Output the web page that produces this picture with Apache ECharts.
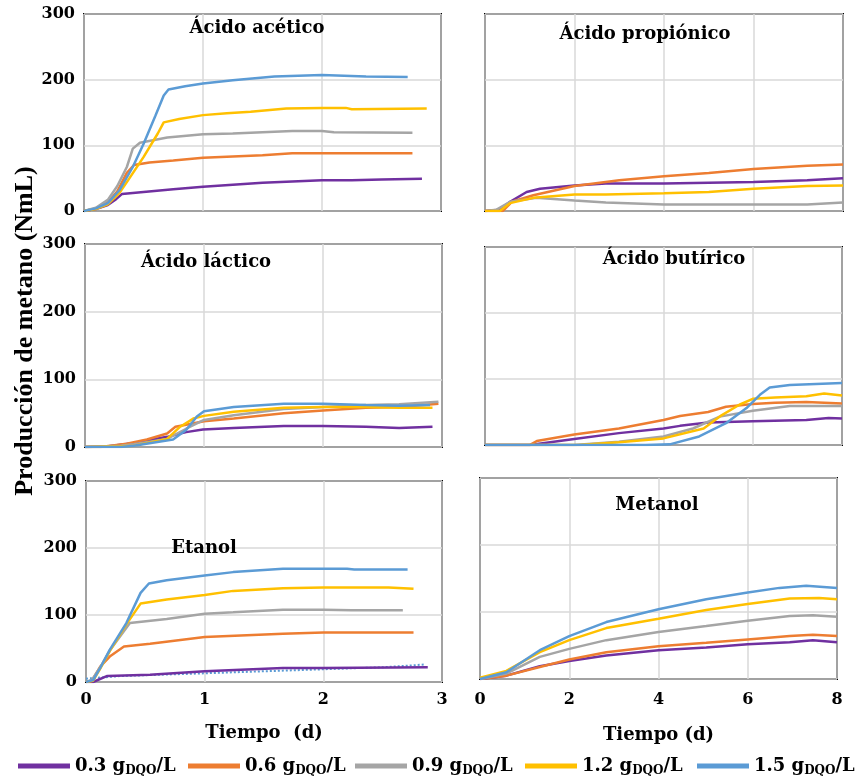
<!DOCTYPE html>
<html><head><meta charset="utf-8">
<script src="https://cdn.jsdelivr.net/npm/echarts@6/dist/echarts.min.js"></script>
<style>html,body{margin:0;padding:0;background:#fff}#c{width:867px;height:779px}</style>
</head><body><div id="c"></div>
<script>
// ---- data (t in days, methane in NmL) ----
const seriesNames = ['0.3', '0.6', '0.9', '1.2', '1.5'];
const seriesColors = ['#7030A0', '#ED7D31', '#A5A5A5', '#FFC000', '#5B9BD5'];
const panelTitles = ['Ácido acético', 'Ácido propiónico', 'Ácido láctico', 'Ácido butírico', 'Etanol', 'Metanol'];
const yTicks = [0, 100, 200, 300];
const xTicksShort = [0, 1, 2, 3];
const xTicksLong = [0, 2, 4, 6, 8];

const acetico03 = [[0,0],[0.1,3],[0.2,9],[0.27,18],[0.32,26],[0.5,29],[0.75,33],[1,37],[1.25,40],[1.5,43],[1.75,45],[2,47],[2.25,47],[2.5,48],[2.84,49]];
const acetico06 = [[0,0],[0.1,4],[0.2,13],[0.28,30],[0.36,58],[0.42,70],[0.55,74],[0.75,77],[1,81],[1.25,83],[1.5,85],[1.75,88],[2,88],[2.5,88],[2.76,88]];
const acetico09 = [[0,0],[0.1,5],[0.2,17],[0.28,38],[0.36,67],[0.41,95],[0.47,104],[0.7,112],[1,117],[1.25,118],[1.5,120],[1.75,122],[2,122],[2.1,120],[2.76,119]];
const acetico12 = [[0,0],[0.1,3],[0.2,10],[0.3,28],[0.36,44],[0.5,82],[0.62,118],[0.67,135],[0.8,140],[1,146],[1.2,149],[1.4,151],[1.7,156],[2,157],[2.2,157],[2.25,155],[2.88,156]];
const acetico15 = [[0,0],[0.1,4],[0.2,12],[0.3,32],[0.41,67],[0.5,102],[0.6,145],[0.67,176],[0.71,185],[0.85,190],[1,194],[1.25,199],[1.6,205],[2,207],[2.37,205],[2.72,204]];

const propionico03 = [[0,0],[0.33,2],[0.56,14],[0.93,29],[1.23,34],[2,39],[2.7,42],[4,42],[5,43],[6,44],[7.2,47],[8,50]];
const propionico06 = [[0,0],[0.4,0],[0.6,14],[1.08,24],[2,38],[3,47],[4,53],[5,58],[6,64],[7.2,69],[8,71]];
const propionico09 = [[0,0],[0.26,2],[0.56,14],[1.15,20],[2,16],[2.7,13],[4,10],[5,10],[6,10],[7.2,10],[8,13]];
const propionico12 = [[0,0],[0.33,0],[0.56,12],[1.08,20],[2,25],[2.7,25],[4,27],[5,29],[6,34],[7.2,38],[8,39]];
const propionico15 = [];

const lactico03 = [[0,0],[0.2,1],[0.41,6],[0.69,15],[0.85,22],[0.99,26],[1.25,28],[1.67,31],[2,31],[2.36,30],[2.64,28],[2.92,30]];
const lactico06 = [[0,0],[0.13,0],[0.35,5],[0.52,11],[0.69,20],[0.76,30],[0.85,33],[1,38],[1.25,42],[1.67,50],[2,54],[2.36,58],[2.64,59],[2.97,64]];
const lactico09 = [[0,0],[0.3,2],[0.41,4],[0.69,12],[0.85,27],[1,40],[1.25,47],[1.67,56],[2,59],[2.36,62],[2.64,63],[2.97,67]];
const lactico12 = [[0,0],[0.3,1],[0.41,2],[0.69,12],[0.8,30],[0.91,42],[1,46],[1.25,52],[1.67,58],[2,59],[2.36,59],[2.64,58],[2.92,58]];
const lactico15 = [[0,0],[0.3,0],[0.41,2],[0.74,11],[0.85,25],[0.94,45],[1,53],[1.25,59],[1.67,64],[2,64],[2.36,62],[2.64,61],[2.9,62]];

const butirico03 = [[0,0],[1,0],[2,9],[3,18],[4,25],[4.37,29],[5,34],[6,36],[7.2,38],[7.7,41],[8,40]];
const butirico06 = [[0,0],[1,0],[1.16,6],[2,16],[3,25],[4,38],[4.37,44],[5,50],[5.4,58],[6,62],[6.5,64],[7.2,65],[8,63]];
const butirico09 = [[0,0],[2,0],[3,5],[4,13],[4.66,25],[5.26,43],[6,52],[6.83,59],[8,59]];
const butirico12 = [[0,0],[2.1,0],[3,4],[4,10],[4.9,25],[5.3,45],[5.7,61],[6,70],[6.5,72],[7.2,74],[7.6,78],[8,75]];
const butirico15 = [[0,0],[3.6,0],[4.14,1],[4.8,13],[5.4,33],[5.86,56],[6.16,76],[6.38,87],[6.83,91],[8,94]];

const etanol03 = [[0,0],[0.06,0],[0.18,9],[0.54,11],[1,16],[1.66,21],[2,21],[2.88,22]];
const etanol06 = [[0,0],[0.05,2],[0.12,23],[0.2,38],[0.32,53],[0.54,57],[1,67],[1.66,72],[2,74],[2.76,74]];
const etanol09 = [[0,0],[0.05,3],[0.12,22],[0.2,47],[0.37,88],[0.68,94],[1,102],[1.24,104],[1.66,108],[2,108],[2.24,107],[2.67,107]];
const etanol12 = [[0,0],[0.06,2],[0.12,20],[0.2,46],[0.34,86],[0.46,117],[0.68,123],[1,130],[1.24,136],[1.66,140],[2,141],[2.55,141],[2.76,139]];
const etanol15 = [[0,0],[0.06,3],[0.12,21],[0.2,48],[0.34,88],[0.46,133],[0.53,147],[0.68,152],[1,159],[1.24,164],[1.66,169],[2,169],[2.2,169],[2.26,168],[2.71,168]];
const etanolFit = [[0,5],[0.3,9],[1,13],[1.5,16],[2,19],[2.5,22],[2.85,26]];

const metanol03 = [[0,0],[0.59,5],[1.34,19],[2,27],[2.83,35],[4,43],[5.07,47],[6,52],[6.94,55],[7.46,58],[8,55]];
const metanol06 = [[0,0],[0.59,5],[1.34,18],[2,29],[2.83,40],[4,49],[5.07,54],[6,59],[6.94,64],[7.46,66],[8,64]];
const metanol09 = [[0,0],[0.59,8],[1.34,33],[2,45],[2.83,58],[4,70],[5.07,79],[6,87],[6.94,94],[7.46,95],[8,93]];
const metanol12 = [[0,2],[0.59,12],[1.34,40],[2,58],[2.83,76],[4,90],[5.07,103],[6,112],[6.94,120],[7.6,121],[8,119]];
const metanol15 = [[0,0],[0.59,10],[1.34,43],[2,64],[2.83,85],[4,104],[5.07,119],[6,129],[6.71,136],[7.31,139],[8,136]];

const panelData = [
  [acetico03, acetico06, acetico09, acetico12, acetico15],
  [propionico03, propionico06, propionico09, propionico12, propionico15],
  [lactico03, lactico06, lactico09, lactico12, lactico15],
  [butirico03, butirico06, butirico09, butirico12, butirico15],
  [etanol03, etanol06, etanol09, etanol12, etanol15],
  [metanol03, metanol06, metanol09, metanol12, metanol15]
];

// ---- layout ----
const gridBoxes = [
  {left: 84, top: 14, width: 357, height: 197},
  {left: 485, top: 14, width: 358, height: 197},
  {left: 85, top: 244, width: 357, height: 203},
  {left: 485, top: 247, width: 357, height: 198},
  {left: 86, top: 481, width: 356, height: 201},
  {left: 480, top: 478, width: 357, height: 201}
];
const titlePos = [[257, 28], [645, 34], [206, 262], [674, 259], [204, 548], [657, 505]];
const legendLeft = [18, 188, 355, 525, 697];

const serif = "'DejaVu Serif', 'Liberation Serif', serif";
const timesFont = "'Liberation Serif', 'Times New Roman', serif";

const grids = gridBoxes.map(b => Object.assign({show: true, borderColor: '#000', borderWidth: 2, backgroundColor: 'transparent', containLabel: false}, b));

const xAxes = gridBoxes.map((b, i) => {
  const isLeft = i % 2 === 0;
  const ticks = isLeft ? xTicksShort : xTicksLong;
  const bottom = i >= 4;
  return {
    gridIndex: i, type: 'value',
    min: ticks[0], max: ticks[ticks.length - 1], interval: ticks[1] - ticks[0],
    axisLine: {show: false}, axisTick: {show: false},
    splitLine: {show: true, lineStyle: {color: '#d9d9d9', width: 1.5}},
    axisLabel: {show: bottom, margin: isLeft ? 10 : 13, color: '#000', fontFamily: serif, fontWeight: 'bold', fontSize: 16},
    name: bottom ? (isLeft ? 'Tiempo  (d)' : 'Tiempo (d)') : '',
    nameLocation: 'middle', nameGap: isLeft ? 42 : 47,
    nameTextStyle: {color: '#000', fontFamily: serif, fontWeight: 'bold', fontSize: 18}
  };
});

const yAxes = gridBoxes.map((b, i) => ({
  gridIndex: i, type: 'value',
  min: yTicks[0], max: yTicks[yTicks.length - 1], interval: yTicks[1] - yTicks[0],
  axisLine: {show: false}, axisTick: {show: false},
  splitLine: {show: true, lineStyle: {color: '#d9d9d9', width: 1.5}},
  axisLabel: {show: i % 2 === 0, margin: 9, color: '#000', fontFamily: serif, fontWeight: 'bold', fontSize: 16}
}));

const series = [];
panelData.forEach((sets, p) => {
  sets.forEach((d, k) => {
    series.push({
      name: seriesNames[k], type: 'line', xAxisIndex: p, yAxisIndex: p,
      data: d, showSymbol: false, symbol: 'none', smooth: false,
      lineStyle: {color: seriesColors[k], width: 2.5},
      itemStyle: {color: seriesColors[k]},
      emphasis: {disabled: true}, z: 2 + k
    });
  });
});
series.push({
  name: 'ajuste', type: 'line', xAxisIndex: 4, yAxisIndex: 4, data: etanolFit,
  showSymbol: false, symbol: 'none',
  lineStyle: {color: '#5B9BD5', width: 2, type: 'dotted'}, z: 1
});

const legends = seriesNames.map((n, k) => ({
  data: [n], left: legendLeft[k], top: 757, icon: 'rect', itemWidth: 52, itemHeight: 5,
  padding: 0, selectedMode: false,
  formatter: name => '{a|' + name + ' g}{b|DQO}{a|/L}',
  textStyle: {
    color: '#000',
    rich: {
      a: {fontFamily: serif, fontWeight: 'bold', fontSize: 18, color: '#000'},
      b: {fontFamily: serif, fontWeight: 'bold', fontSize: 12, color: '#000', padding: [10, 0, 0, 0]}
    }
  }
}));

const graphics = panelTitles.map((t, i) => ({
  type: 'text', x: titlePos[i][0], y: titlePos[i][1], silent: true, z: 100, zlevel: 0,
  style: {text: t, font: 'bold 18px ' + serif, fill: '#000', align: 'center', verticalAlign: 'middle', textAlign: 'center', textVerticalAlign: 'middle'}
}));
graphics.push({
  type: 'text', x: 25, y: 331, rotation: Math.PI / 2, silent: true, z: 100,
  style: {text: 'Producción de metano (NmL)', font: 'bold 26px ' + timesFont, fill: '#000', align: 'center', verticalAlign: 'middle', textAlign: 'center', textVerticalAlign: 'middle'}
});

const chart = echarts.init(document.getElementById('c'), null, {renderer: 'canvas'});
chart.setOption({
  animation: false,
  backgroundColor: '#fff',
  grid: grids, xAxis: xAxes, yAxis: yAxes, series: series,
  legend: legends, graphic: {elements: graphics}
});
</script></body></html>
